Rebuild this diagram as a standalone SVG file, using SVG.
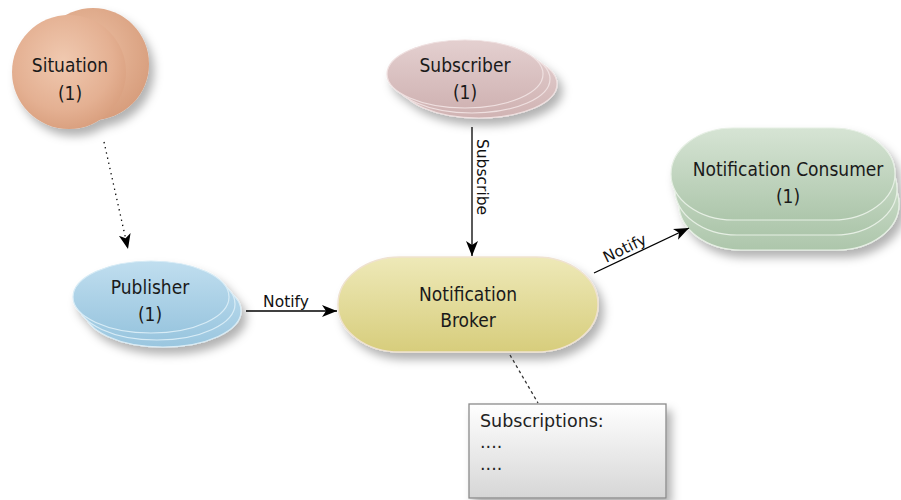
<svg xmlns="http://www.w3.org/2000/svg" width="901" height="500" viewBox="0 0 901 500">
<defs>
<filter id="sh" x="-30%" y="-30%" width="170%" height="180%">
<feDropShadow dx="5" dy="7" stdDeviation="5" flood-color="#000" flood-opacity="0.3"/>
</filter>
<radialGradient id="gSit" cx="0.45" cy="0.4" r="0.62">
<stop offset="0" stop-color="#f0c9b0"/>
<stop offset="0.7" stop-color="#e4b092"/>
<stop offset="1" stop-color="#d99f7e"/>
</radialGradient>
<radialGradient id="gSitB" cx="0.45" cy="0.4" r="0.62">
<stop offset="0" stop-color="#edc1a5"/>
<stop offset="1" stop-color="#d79d7c"/>
</radialGradient>
<linearGradient id="gSub" x1="0" y1="0" x2="0" y2="1">
<stop offset="0" stop-color="#e4d0d0"/>
<stop offset="1" stop-color="#d0b3b3"/>
</linearGradient>
<linearGradient id="gPub" x1="0" y1="0" x2="0" y2="1">
<stop offset="0" stop-color="#c0deef"/>
<stop offset="1" stop-color="#9ac6df"/>
</linearGradient>
<linearGradient id="gCon" x1="0" y1="0" x2="0" y2="1">
<stop offset="0" stop-color="#d6e4d4"/>
<stop offset="1" stop-color="#adc6ab"/>
</linearGradient>
<linearGradient id="gBro" x1="0" y1="0" x2="0" y2="1">
<stop offset="0" stop-color="#eee9b8"/>
<stop offset="1" stop-color="#d7cd7c"/>
</linearGradient>
<linearGradient id="gBox" x1="0" y1="0" x2="0" y2="1">
<stop offset="0" stop-color="#ffffff"/>
<stop offset="1" stop-color="#d6d6d6"/>
</linearGradient>
<marker id="arr" viewBox="-15 -7 16 14" refX="0" refY="0" markerWidth="16" markerHeight="14" markerUnits="userSpaceOnUse" orient="auto">
<path d="M0,0 L-15,-6 L-11,0 L-15,6 Z" fill="#000"/>
</marker>
<style>
.nt{font-family:"DejaVu Sans Condensed","DejaVu Sans",sans-serif;font-stretch:condensed;font-size:19px;fill:#1a1a1a;text-anchor:middle}
.lb{font-family:"DejaVu Sans",sans-serif;font-size:15.5px;fill:#111}
.bx{font-family:"DejaVu Sans",sans-serif;font-size:17.5px;fill:#222}
.ln{stroke:#000;stroke-width:1.3;fill:none}
</style>
</defs>
<rect width="901" height="500" fill="#fff"/>

<g id="situation">
<g filter="url(#sh)">
<circle cx="93" cy="64" r="56" fill="url(#gSitB)"/>
<circle cx="69" cy="72" r="57" fill="url(#gSit)"/>
</g>
<text class="nt" x="70" y="72">Situation</text>
<text class="nt" x="70" y="100">(1)</text>
</g>

<g id="subscriber">
<g filter="url(#sh)" stroke="#efe0e0" stroke-width="1.2">
<ellipse cx="479" cy="84" rx="78" ry="34" fill="url(#gSub)"/>
<ellipse cx="472" cy="79" rx="78" ry="34" fill="url(#gSub)"/>
<ellipse cx="465" cy="74" rx="78" ry="34" fill="url(#gSub)"/>
</g>
<text class="nt" x="465" y="72">Subscriber</text>
<text class="nt" x="465" y="99">(1)</text>
</g>

<g id="publisher">
<g filter="url(#sh)" stroke="#d8ecf6" stroke-width="1.2">
<ellipse cx="163" cy="311" rx="78" ry="36" fill="url(#gPub)"/>
<ellipse cx="157" cy="304" rx="78" ry="36" fill="url(#gPub)"/>
<ellipse cx="151" cy="297" rx="78" ry="36" fill="url(#gPub)"/>
</g>
<text class="nt" x="150" y="294">Publisher</text>
<text class="nt" x="150" y="321">(1)</text>
</g>

<g id="consumer">
<g filter="url(#sh)" stroke="#e6efe4" stroke-width="1.2">
<rect x="679" y="158" width="220" height="92" rx="62" ry="46" fill="url(#gCon)"/>
<rect x="675" y="143" width="222" height="92" rx="62" ry="46" fill="url(#gCon)"/>
<rect x="671" y="128" width="224" height="92" rx="62" ry="46" fill="url(#gCon)"/>
</g>
<text class="nt" x="788" y="176">Notification Consumer</text>
<text class="nt" x="788" y="203">(1)</text>
</g>

<g id="broker">
<rect x="338" y="257" width="260" height="95" rx="62" ry="47" fill="url(#gBro)" stroke="#efe2d0" stroke-width="1.5" filter="url(#sh)"/>
<text class="nt" x="468" y="301">Notification</text>
<text class="nt" x="468" y="327">Broker</text>
</g>

<g id="subscriptions">
<rect x="469" y="404" width="197" height="94" fill="url(#gBox)" stroke="#8a8a8a" stroke-width="1.3" filter="url(#sh)"/>
<text class="bx" x="480" y="427">Subscriptions:</text>
<text class="bx" x="480" y="448">....</text>
<text class="bx" x="480" y="470">....</text>
</g>

<g id="connectors">
<line class="ln" x1="104" y1="142" x2="128" y2="249" stroke-dasharray="1.3,4" marker-end="url(#arr)"/>
<line class="ln" x1="472" y1="127" x2="472" y2="256" marker-end="url(#arr)"/>
<line class="ln" x1="246" y1="311" x2="337" y2="311" marker-end="url(#arr)"/>
<line class="ln" x1="594" y1="273" x2="689" y2="228" marker-end="url(#arr)"/>
<line x1="510" y1="355" x2="538" y2="403" stroke="#333" stroke-width="1.3" stroke-dasharray="3,3"/>
<text class="lb" x="286" y="307" text-anchor="middle">Notify</text>
<text class="lb" transform="translate(477,177) rotate(90)" text-anchor="middle">Subscribe</text>
<text class="lb" transform="translate(627,253) rotate(-25.6)" text-anchor="middle">Notify</text>
</g>
</svg>
